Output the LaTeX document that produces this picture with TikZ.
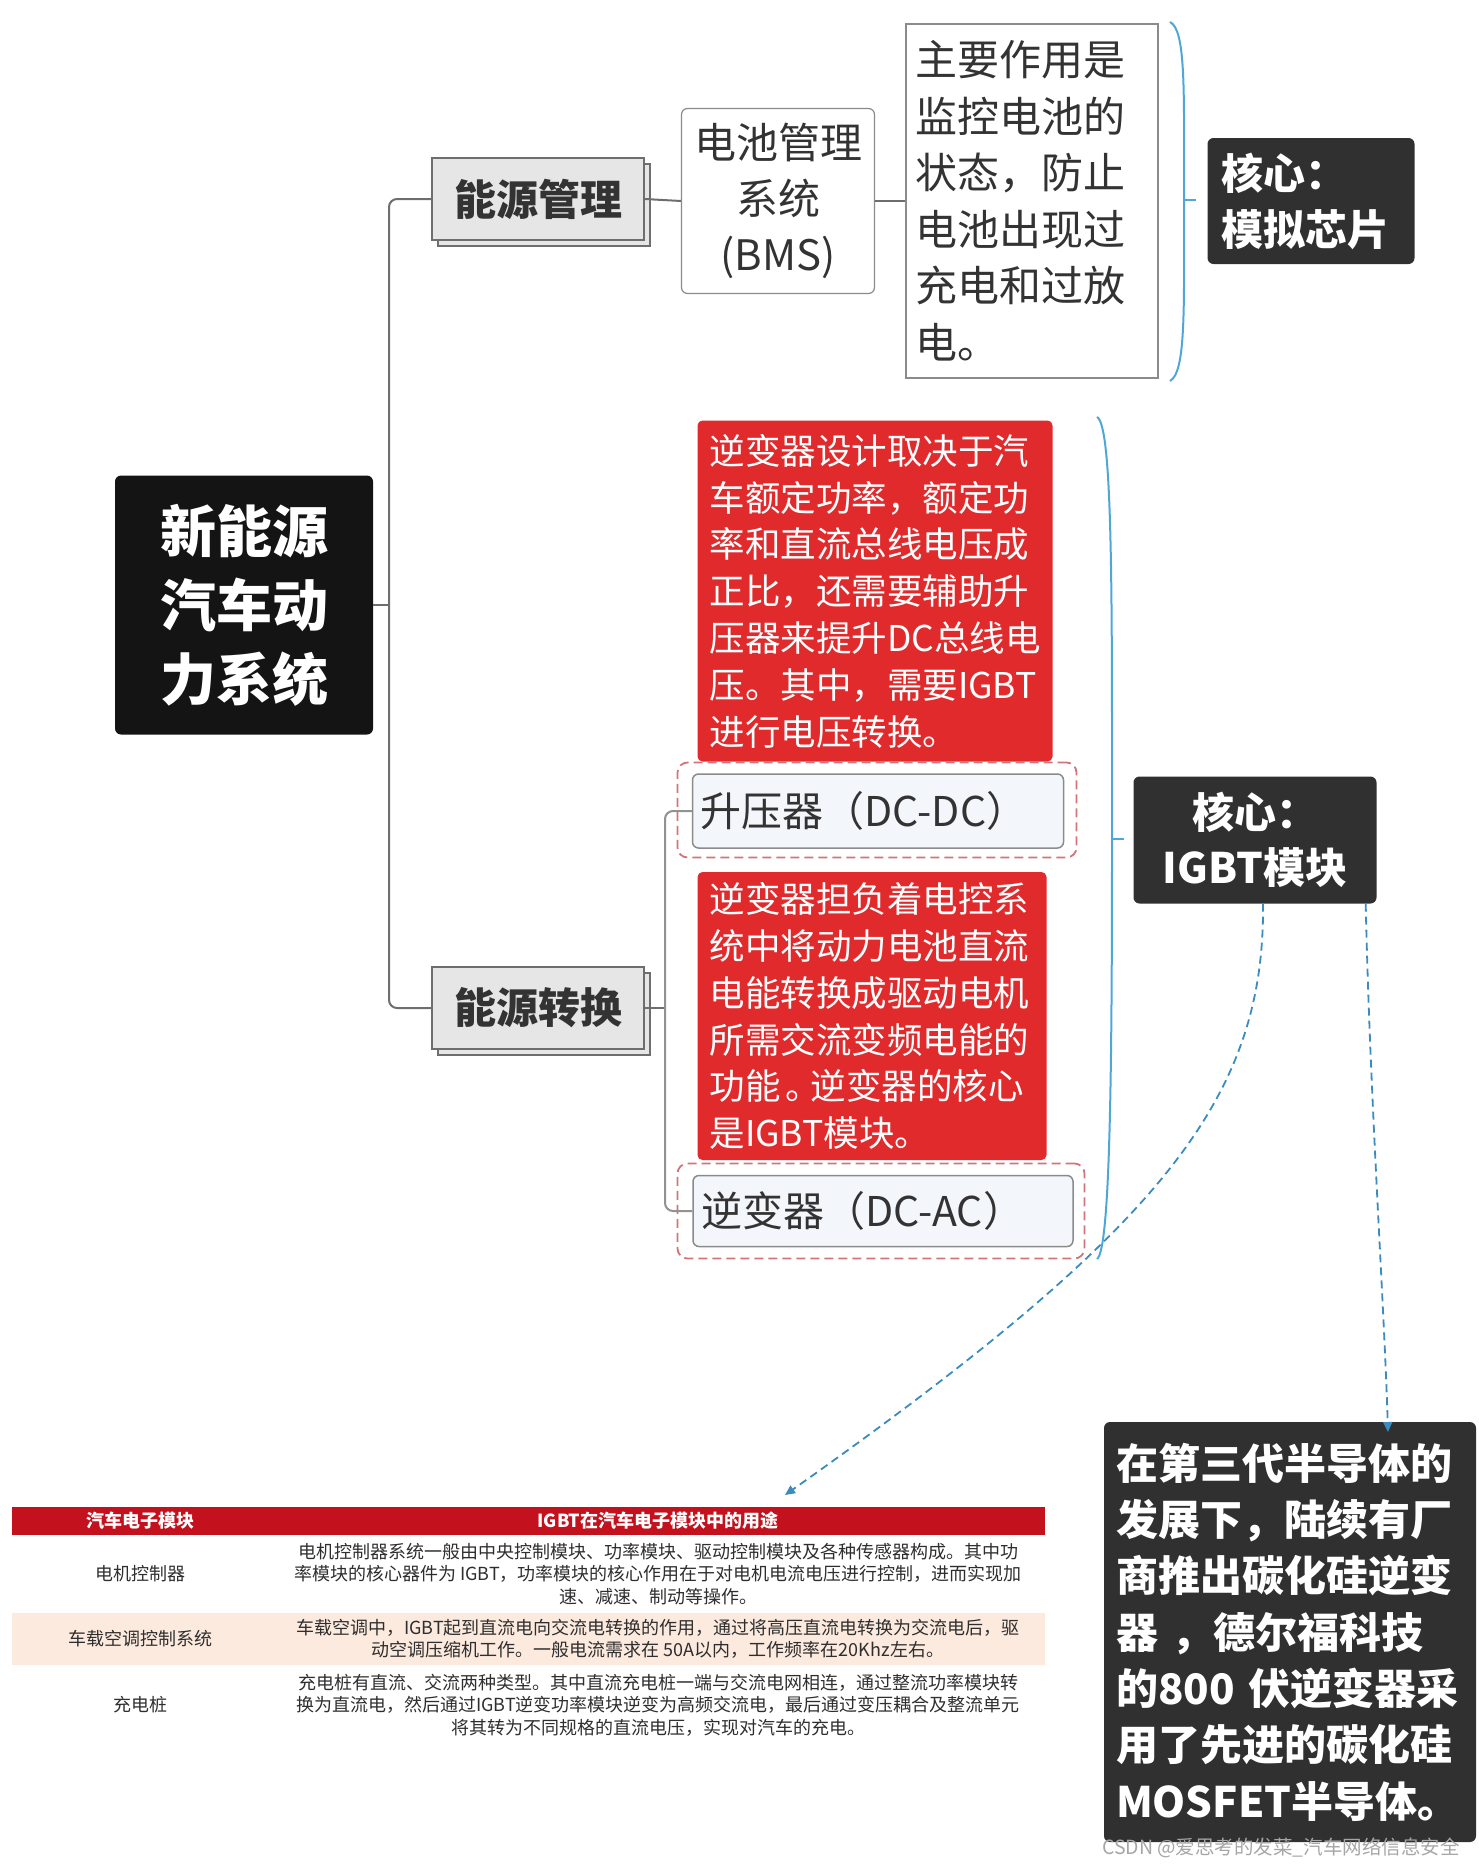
\documentclass[tikz,border=0pt]{standalone}
\usepackage{fontspec}
\setmainfont{Noto Sans CJK SC}
\usepackage{tikz}
\usetikzlibrary{arrows.meta, positioning, shadows}
\definecolor{Tree_Gray}{HTML}{6E6E6E}
\definecolor{Text_Gray}{HTML}{333333}
\definecolor{Root_Black}{HTML}{141414}
\definecolor{Core_Dark}{HTML}{303030}
\definecolor{Topic_Fill}{HTML}{E6E6E6}
\definecolor{Note_Red}{HTML}{E02A2C}
\definecolor{Frame_Pink}{HTML}{D27479}
\definecolor{Sub_Fill}{HTML}{F3F6FA}
\definecolor{Brace_Blue}{HTML}{4FA7D8}
\definecolor{Link_Blue}{HTML}{3B8BBE}
\definecolor{Table_Red}{HTML}{C3121E}
\definecolor{Table_Peach}{HTML}{FCEADF}
\newcommand{\setfs}[2]{\fontsize{#1}{#2}\selectfont}

\begin{document}
\begin{tikzpicture}[x=1pt, y=-1pt,
    rootbox/.style={fill=Root_Black, text=white, rounded corners=6pt, font=\bfseries\setfs{56}{74}, align=center},
    topicbox/.style={draw=Tree_Gray, fill=Topic_Fill, line width=1.5pt, text=Text_Gray,
        font=\bfseries\setfs{42}{50}, minimum width=212pt, minimum height=82pt,
        copy shadow={shadow xshift=6pt, shadow yshift=-6pt, draw=Tree_Gray, fill=Topic_Fill, line width=1.5pt}},
    plainbox/.style={draw=Tree_Gray!80, fill=white, line width=1.2pt, text=Text_Gray, font=\setfs{42}{56.5}},
    corebox/.style={fill=Core_Dark, text=white, rounded corners=6pt, font=\bfseries\setfs{42}{56}, inner xsep=12pt},
    notebox/.style={fill=Note_Red, text=white, rounded corners=5pt, align=left, inner xsep=12pt,
        font=\setfs{35.5}{46.8}},
    pinkframe/.style={draw=Frame_Pink, dash pattern=on 9pt off 5pt, line width=1.8pt, rounded corners=10pt},
    subbox/.style={fill=Sub_Fill, draw=Tree_Gray!80, line width=1.5pt, rounded corners=6pt,
        text=Text_Gray, align=left, inner xsep=8pt, font=\setfs{41}{48}},
    treeline/.style={draw=Tree_Gray, line width=2pt},
    brace/.style={draw=Brace_Blue, line width=2pt},
    linkline/.style={draw=Link_Blue, line width=1.8pt, dash pattern=on 8pt off 5pt,
        -{Triangle[length=10pt,width=9pt]}},
    tablehead/.style={text=white, font=\bfseries\setfs{18}{22}},
    tablecell/.style={text=Text_Gray!90!black, font=\setfs{18}{22.5}, align=center}]
    \useasboundingbox (0,0) rectangle (1478,1866);

    % Root and first level
    \node[rootbox, minimum width=258pt, minimum height=259pt] (root) at (244,605) {新能源\\汽车动\\力系统};
    \node[topicbox] (mgmt) at (538,199) {能源管理};
    \node[topicbox] (conv) at (538,1008) {能源转换};

    % Energy management branch
    \node[plainbox, rounded corners=6pt, minimum width=193pt, minimum height=185pt, align=center, font=\setfs{42}{56}] (bms) at (778,201) {电池管理\\系统\\(BMS)};
    \node[plainbox, minimum width=252pt, minimum height=354pt, text width=234pt, inner xsep=9pt, align=left] (bmsnote) at (1032,201) {主要作用是\\监控电池的\\状态，防止\\电池出现过\\充电和过放\\电。};
    \node[corebox, minimum width=207pt, minimum height=126pt, text width=180pt, align=left] (chip) at (1311,201) {核心：\\模拟芯片};

    % Energy conversion branch
    \node[notebox, minimum width=355pt, minimum height=341pt, text width=331pt] (boostnote) at (875,591) {逆变器设计取决于汽\\车额定功率，额定功\\率和直流总线电压成\\正比，还需要辅助升\\压器来提升DC总线电\\压。其中，需要IGBT\\进行电压转换。};
    \node[pinkframe, minimum width=399pt, minimum height=95pt] (boostframe) at (877,810) {};
    \node[subbox, minimum width=371pt, minimum height=74pt, text width=355pt] (boost) at (878,811) {升压器（DC-DC）};
    \node[notebox, minimum width=349pt, minimum height=288pt, text width=325pt] (invnote) at (872,1016) {逆变器担负着电控系\\统中将动力电池直流\\电能转换成驱动电机\\所需交流变频电能的\\功能\kern0.15em。\kern-0.3em逆变器的核心\\是IGBT模块。};
    \node[pinkframe, minimum width=407pt, minimum height=95pt] (invframe) at (881,1211) {};
    \node[subbox, minimum width=380pt, minimum height=71pt, text width=364pt] (inv) at (883,1211) {逆变器（DC-AC）};
    \node[corebox, minimum width=243pt, minimum height=127pt, align=center, font=\bfseries\setfs{42}{55}] (igbt) at (1255,840) {核心：\\IGBT模块};
    \node[corebox, minimum width=372pt, minimum height=420pt, text width=348pt, align=left, font=\bfseries\setfs{42}{56.3}] (sicnote) at (1290,1632) {在第三代半导体的\\发展下，陆续有厂\\商推出碳化硅逆变\\器 ，德尔福科技\\的800 伏逆变器采\\用了先进的碳化硅\\MOSFET半导体。};

    % Tree lines
    \coordinate (trunk) at (389,605);
    \coordinate (subtrunk) at (665,1008);
    \draw[treeline] (root.east) -- (trunk);
    \draw[treeline, rounded corners=8pt] (mgmt.west) -| (trunk) |- (conv.west);
    \draw[treeline] (mgmt.east) -- (bms.west);
    \draw[treeline] (bms.east) -- (bmsnote.west);
    \draw[treeline] (conv.east) -- (subtrunk);
    \draw[treeline, draw=Tree_Gray!75, rounded corners=8pt] (boost.west) -| (subtrunk) |- (inv.west);

    % Summary braces
    \draw[brace] (1170,22) .. controls (1186,30) and (1184,90) .. (1184,200) .. controls (1184,310) and (1186,372) .. (1170,381);
    \draw[brace] (1184,200) -- (1196,200);
    \draw[brace] (1097,417) .. controls (1113,425) and (1112,600) .. (1112,839) .. controls (1112,1080) and (1110,1250) .. (1097,1259);
    \draw[brace] (1112,839) -- (1124,839);

    % IGBT table
    \fill[Table_Red] (12,1507) rectangle (1045,1535);
    \fill[Table_Peach] (12,1613) rectangle (1045,1665);
    \node[tablehead] (headmod) at (140,1521) {汽车电子模块};
    \node[tablehead] (headuse) at (658,1521) {IGBT在汽车电子模块中的用途};
    \node[tablecell] (modmotor) at (140,1574) {电机控制器};
    \node[tablecell] (usemotor) at (658,1574) {电机控制器系统一般由中央控制模块、功率模块、驱动控制模块及各种传感器构成。其中功\\率模块的核心器件为 IGBT，功率模块的核心作用在于对电机电流电压进行控制，进而实现加\\速、减速、制动等操作。};
    \node[tablecell] (modair) at (140,1639) {车载空调控制系统};
    \node[tablecell] (useair) at (658,1639) {车载空调中，IGBT起到直流电向交流电转换的作用，通过将高压直流电转换为交流电后，驱\\动空调压缩机工作。一般电流需求在 50A以内，工作频率在20Khz左右。};
    \node[tablecell] (modpile) at (140,1705) {充电桩};
    \node[tablecell] (usepile) at (658,1705) {充电桩有直流、交流两种类型。其中直流充电桩一端与交流电网相连，通过整流功率模块转\\换为直流电，然后通过IGBT逆变功率模块逆变为高频交流电，最后通过变压耦合及整流单元\\将其转为不同规格的直流电压，实现对汽车的充电。};

    % Dashed links from the IGBT core
    \coordinate (tabletip) at (785,1495);
    \coordinate (sictip) at (1388,1432);
    \draw[linkline] ([xshift=8pt]igbt.south) .. controls (1265,1100) and (1160,1230) .. (tabletip);
    \draw[linkline] ([xshift=-11pt]igbt.south east) .. controls (1370,1100) and (1384,1300) .. (sictip);

    \node[text=gray!70, font=\setfs{19.5}{22}] (mark) at (1281,1848) {CSDN @爱思考的发菜\_汽车网络信息安全};
\end{tikzpicture}
\end{document}
